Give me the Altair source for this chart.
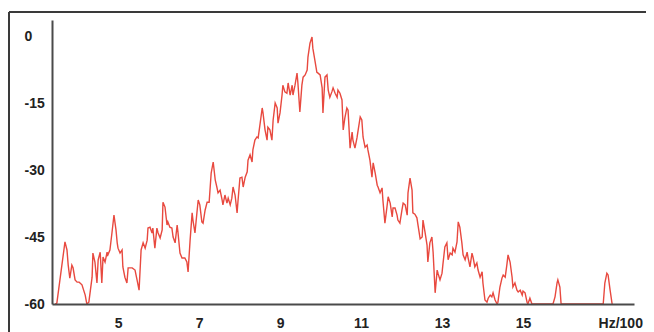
import altair as alt
import pandas as pd

# Spectrum: frequency (Hz/100) and level (dB)
freq = [3.45, 3.49, 3.69, 3.74, 3.77, 3.81, 3.86, 3.89, 3.94, 3.99, 4.04, 4.11, 4.19, 4.23, 4.28,
        4.36, 4.38, 4.43, 4.48, 4.51, 4.56, 4.60, 4.63, 4.68, 4.73, 4.75, 4.80, 4.85, 4.90, 4.95,
        4.98, 5.00, 5.05, 5.10, 5.12, 5.17, 5.22, 5.25, 5.35, 5.42, 5.47, 5.52, 5.57, 5.62, 5.67,
        5.72, 5.74, 5.79, 5.84, 5.86, 5.91, 5.96, 5.99, 6.04, 6.09, 6.11, 6.16, 6.21, 6.23, 6.28,
        6.33, 6.36, 6.41, 6.46, 6.48, 6.53, 6.58, 6.65, 6.70, 6.73, 6.78, 6.83, 6.85, 6.90, 6.95,
        6.98, 7.02, 7.07, 7.10, 7.15, 7.20, 7.25, 7.30, 7.35, 7.40, 7.44, 7.47, 7.52, 7.57, 7.59,
        7.64, 7.69, 7.72, 7.77, 7.81, 7.84, 7.89, 7.94, 7.96, 8.01, 8.06, 8.09, 8.14, 8.19, 8.21,
        8.26, 8.31, 8.33, 8.38, 8.43, 8.46, 8.51, 8.56, 8.58, 8.63, 8.68, 8.70, 8.75, 8.80, 8.83,
        8.88, 8.93, 8.95, 9.00, 9.05, 9.07, 9.12, 9.17, 9.20, 9.25, 9.30, 9.32, 9.37, 9.42, 9.44,
        9.49, 9.54, 9.57, 9.62, 9.67, 9.69, 9.74, 9.79, 9.81, 9.86, 9.91, 9.94, 9.99, 10.04, 10.06,
        10.11, 10.16, 10.19, 10.23, 10.28, 10.31, 10.36, 10.41, 10.43, 10.48, 10.53, 10.56, 10.60,
        10.65, 10.68, 10.73, 10.78, 10.80, 10.85, 10.90, 10.93, 10.98, 11.02, 11.05, 11.10, 11.15,
        11.17, 11.22, 11.27, 11.30, 11.35, 11.40, 11.42, 11.47, 11.52, 11.54, 11.59, 11.64, 11.67,
        11.72, 11.77, 11.79, 11.84, 11.89, 11.91, 11.96, 12.01, 12.04, 12.09, 12.14, 12.16, 12.21,
        12.26, 12.28, 12.33, 12.38, 12.41, 12.46, 12.51, 12.53, 12.58, 12.63, 12.65, 12.70, 12.75,
        12.78, 12.83, 12.88, 12.90, 12.95, 13.00, 13.02, 13.07, 13.12, 13.15, 13.20, 13.25, 13.27,
        13.32, 13.37, 13.40, 13.44, 13.49, 13.52, 13.57, 13.62, 13.64, 13.69, 13.74, 13.77, 13.81,
        13.86, 13.89, 13.94, 13.99, 14.01, 14.06, 14.11, 14.14, 14.19, 14.23, 14.26, 14.31, 14.36,
        14.38, 14.43, 14.48, 14.51, 14.56, 14.60, 14.63, 14.68, 14.73, 14.75, 14.80, 14.85, 14.88,
        14.93, 14.98, 15.00, 15.05, 15.10, 15.12, 15.17, 15.22, 15.74, 15.79, 15.84, 15.86, 15.91,
        15.94, 16.98, 17.02, 17.07, 17.10, 17.15, 17.20]
level = [-60.0, -59.8, -46.1, -47.9, -51.3, -54.2, -51.3, -51.9, -54.6, -55.1, -55.1, -55.7, -58.0, -60.0, -59.6,
         -54.0, -48.6, -50.6, -55.3, -50.1, -48.4, -55.3, -49.5, -50.6, -48.4, -49.0, -47.9, -44.1, -40.1, -43.4,
         -46.3, -47.5, -48.6, -47.9, -51.7, -54.0, -55.3, -51.9, -51.9, -52.4, -54.6, -56.9, -47.9, -46.3, -47.5,
         -45.7, -43.0, -42.8, -44.1, -43.0, -47.5, -43.0, -44.1, -45.2, -43.4, -37.2, -38.3, -42.3, -41.6, -42.8,
         -43.0, -45.0, -46.3, -42.3, -43.9, -48.6, -49.7, -49.7, -50.6, -52.8, -45.7, -39.6, -41.2, -44.1, -39.4,
         -36.7, -37.8, -41.6, -41.9, -39.0, -37.2, -37.2, -30.7, -28.2, -32.2, -33.8, -35.1, -34.5, -36.7, -37.8,
         -35.6, -37.4, -36.3, -37.8, -36.3, -33.8, -35.6, -39.6, -37.2, -31.8, -31.6, -33.8, -31.6, -30.4, -27.8,
         -26.6, -28.2, -25.5, -23.3, -22.6, -22.8, -19.5, -16.1, -17.2, -21.0, -23.3, -20.4, -21.0, -23.3, -18.8,
         -15.0, -16.1, -19.5, -17.2, -13.2, -11.0, -12.5, -12.8, -10.5, -13.2, -11.0, -13.2, -11.0, -8.3, -10.3,
         -17.0, -11.0, -9.2, -8.7, -7.6, -4.7, -1.6, -0.2, -2.7, -5.4, -8.1, -8.3, -8.7, -11.6, -17.2,
         -9.2, -8.7, -12.1, -13.7, -12.5, -11.6, -12.8, -13.7, -12.1, -12.8, -14.3, -21.0, -18.4,
         -16.1, -16.6, -25.1, -21.5, -23.3, -25.1, -22.8, -21.0, -18.1, -18.8, -22.6, -24.9, -24.4,
         -25.5, -27.8, -31.6, -28.4, -30.7, -33.4, -33.8, -35.1, -34.0, -36.7, -41.9, -38.3, -36.0,
         -37.4, -40.5, -38.5, -38.5, -40.1, -41.2, -41.9, -39.0, -37.4, -37.8, -40.1, -35.1, -31.8,
         -34.5, -39.6, -39.9, -40.7, -42.5, -45.4, -45.0, -41.2, -43.9, -46.8, -50.6, -46.3, -45.0,
         -48.4, -57.5, -52.4, -53.1, -54.6, -53.1, -51.3, -47.2, -46.3, -50.1, -48.6, -49.0, -47.5,
         -48.4, -46.1, -41.6, -42.8, -46.3, -49.0, -50.1, -48.4, -49.5, -51.7, -48.6, -49.7, -51.7,
         -50.8, -52.4, -54.0, -52.8, -55.3, -59.1, -59.6, -58.7, -58.0, -58.4, -57.5, -59.1, -60.0,
         -59.6, -56.2, -54.2, -53.5, -54.0, -51.3, -49.0, -50.6, -54.0, -56.2, -55.3, -56.9, -57.3,
         -56.9, -58.0, -57.1, -57.5, -59.6, -60.0, -58.7, -60.0, -60.0, -58.4, -55.3, -54.6, -56.2,
         -60.0, -60.0, -55.3, -53.1, -53.5, -56.9, -60.0]

x_ticks = [5, 7, 9, 11, 13, 15, 17.4]
y_ticks = [-60, -45, -30, -15, 0]
x_unit = "Hz/100"

FONT = "Liberation Sans"
AXIS_COLOR = "#4a4a4a"

df = pd.DataFrame({"f": freq, "db": level})
one = pd.DataFrame({"a": [0]})

line = alt.Chart(df).mark_line(color="#e8493f", strokeWidth=1.4, clip=True).encode(
    x=alt.X("f:Q",
            scale=alt.Scale(domain=[3.37, 17.74], nice=False, zero=False),
            axis=alt.Axis(values=x_ticks,
                          labelExpr=f"datum.value > 16 ? '{x_unit}' : toString(datum.value)",
                          ticks=False, tickSize=0, grid=False,
                          domainColor=AXIS_COLOR, domainWidth=2,
                          labelPadding=12, labelFont=FONT, labelFontSize=14,
                          labelFontWeight="bold", labelColor="#222222",
                          labelFlush=False, labelOverlap=False, title=None, zindex=1)),
    y=alt.Y("db:Q",
            scale=alt.Scale(domain=[-60, 3.6], nice=False, zero=False),
            axis=alt.Axis(values=y_ticks, labelExpr="toString(datum.value)",
                          ticks=False, tickSize=0, grid=False,
                          domainColor=AXIS_COLOR, domainWidth=2,
                          labelPadding=28, labelAlign="left", labelBaseline="middle",
                          labelFont=FONT, labelFontSize=14,
                          labelFontWeight="bold", labelColor="#222222",
                          title=None, zindex=1)),
)

frame_top = alt.Chart(one).mark_rule(color="#3a3a3a", strokeWidth=2).encode(
    x=alt.value(-43), x2=alt.value(600), y=alt.value(-8)
)
frame_left = alt.Chart(one).mark_rule(color="#3a3a3a", strokeWidth=2).encode(
    x=alt.value(-43), y=alt.value(-8), y2=alt.value(320)
)

chart = alt.layer(frame_top, frame_left, line).properties(
    width=582, height=284,
    padding={"left": 44, "top": 12, "right": 12, "bottom": 28},
    autosize="none",
    background="white",
).configure_view(strokeWidth=0)

chart.save("out.html", embed_options={"renderer": "svg", "actions": False})
